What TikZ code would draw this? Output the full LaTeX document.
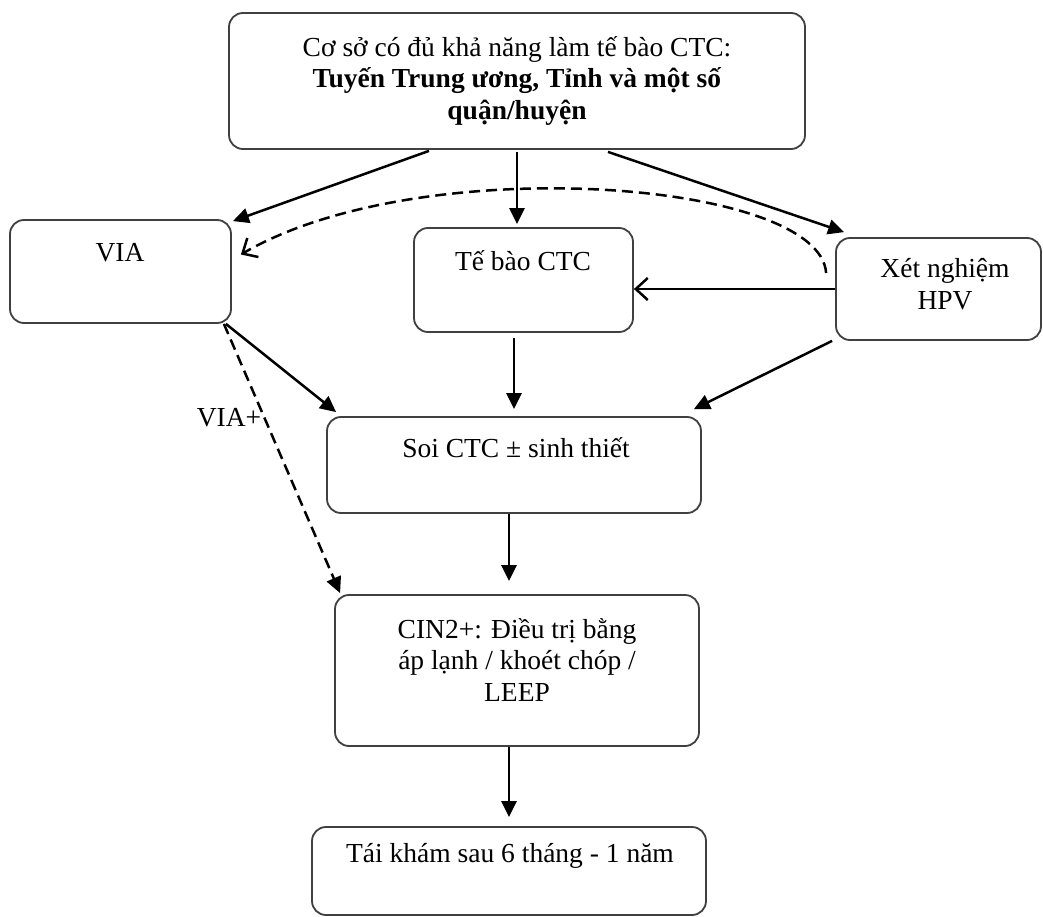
\documentclass[tikz,border=0pt]{standalone}
\usepackage{fontspec}
\setmainfont{Liberation Serif}
\usetikzlibrary{arrows.meta,calc}
\begin{document}
\begin{tikzpicture}[x=1pt,y=-1pt,
  box/.style={draw=black!75, line width=1.8pt, rounded corners=14pt, inner sep=0pt},
  txt/.style={align=center, inner sep=0pt, font=\fontsize{27.5}{31.5}\selectfont},
  conn/.style={line width=2.5pt, -{Triangle[length=16pt,width=15pt]}},
  openconn/.style={line width=2.5pt, -{Straight Barb[length=12pt,width=22pt]}},
  dashconn/.style={line width=2.5pt, dash pattern=on 11pt off 6pt},
]
\fill[white] (0,0) rectangle (1043,917);
\useasboundingbox (0,0) rectangle (1043,917);

% boxes
\node[box, minimum width=576pt, minimum height=136pt] (top)  at (517,81) {};
\node[box, minimum width=221pt, minimum height=103pt] (via)  at (120.5,271.5) {};
\node[box, minimum width=219pt, minimum height=104pt] (cell) at (523.5,280) {};
\node[box, minimum width=205pt, minimum height=102pt] (hpv)  at (938.5,289) {};
\node[box, minimum width=374pt, minimum height=96pt]  (soi)  at (514,465) {};
\node[box, minimum width=364pt, minimum height=151pt] (cin)  at (517,670.5) {};
\node[box, minimum width=394pt, minimum height=88pt]  (tai)  at (509,871) {};

% texts
\node[txt] (topT) at (517,81) {Cơ sở có đủ khả năng làm tế bào CTC:\\\textbf{Tuyến Trung ương, Tỉnh và một số}\\\textbf{quận/huyện}};
\node[txt] (viaT) at (120,253) {VIA};
\node[txt] (cellT) at (523,261) {Tế bào CTC};
\node[txt] (hpvT) at (945,284) {Xét nghiệm\\HPV};
\node[txt] (soiT) at (516,448) {Soi CTC ± sinh thiết};
\node[txt] (cinT) at (517,660) {CIN2+: Điều trị bằng\\áp lạnh / khoét chóp /\\LEEP};
\node[txt] (taiT) at (510,856) {Tái khám sau 6 tháng - 1 năm};
\node[txt] (viaplus) at (229,418) {VIA+};

% connectors
\draw[conn] ([xshift=-88pt,yshift=-1pt]top.south) -- ([xshift=1pt,yshift=-2pt]via.north east);
\draw[conn] ([yshift=-2pt]top.south) -- ([xshift=-6.5pt,yshift=3pt]cell.north);
\draw[conn] ([xshift=91pt,yshift=-2pt]top.south) -- ([xshift=9pt,yshift=5pt]hpv.north west);
\draw[openconn] (hpv.west) -- (hpv.west -| cell.east);
\draw[dashconn, -{Straight Barb[length=12pt,width=22pt]}] ([xshift=-9pt,yshift=16pt]hpv.west) .. controls (820,180) and (420,150) .. ([xshift=9pt,yshift=17pt]via.east);
\draw[conn] ([xshift=-6pt]via.south east) -- ([xshift=10pt,yshift=4pt]soi.north west);
\draw[dashconn, -{Triangle[length=16pt,width=15pt]}] ([xshift=-8pt]via.south east) -- ([xshift=6pt,yshift=1pt]cin.north west);
\draw[conn] ([yshift=-5pt]cell.south -| soi.north) -- ([yshift=7pt]soi.north);
\draw[conn] ([xshift=-3pt]hpv.south west) -- ([xshift=-8pt,yshift=7pt]soi.north east);
\draw[conn] ([xshift=-5pt]soi.south) -- ([xshift=-5pt,yshift=13pt]soi.south |- cin.north);
\draw[conn] (tai.north |- cin.south) -- ([yshift=9pt]tai.north);
\end{tikzpicture}
\end{document}
